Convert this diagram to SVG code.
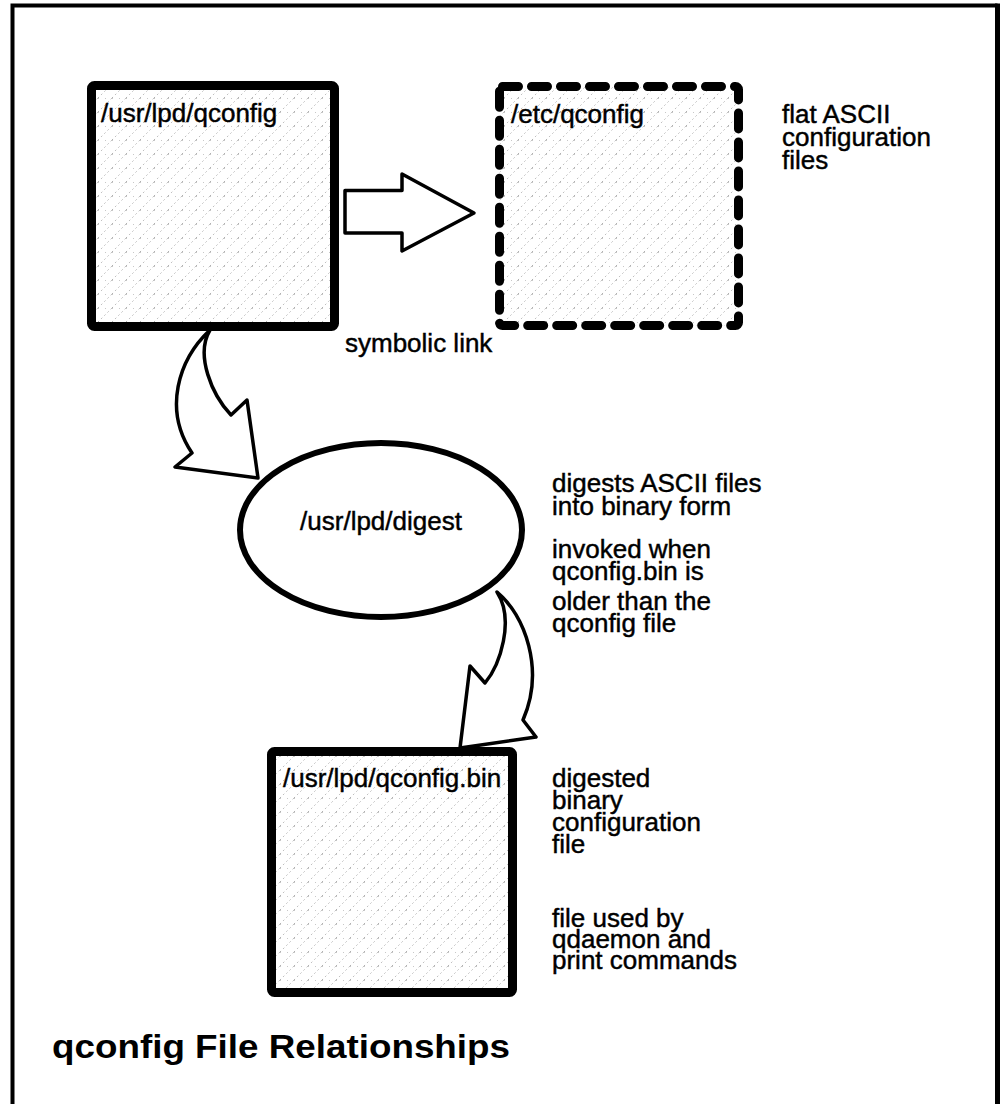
<svg xmlns="http://www.w3.org/2000/svg" width="1001" height="1104" viewBox="0 0 1001 1104">
<defs>
<pattern id="hatch" patternUnits="userSpaceOnUse" width="14" height="14">
<rect width="14" height="14" fill="#ffffff"/>
<path d="M0,14 L14,0" stroke="#9a9a9a" stroke-width="0.8" stroke-dasharray="1.5 3"/>
<path d="M0,0.5 H14" stroke="#b0b0b0" stroke-width="0.7" stroke-dasharray="1 6"/>
</pattern>
<style>
.t{font-family:"Liberation Sans",Arial,sans-serif;font-size:26px;fill:#000;stroke:#000;stroke-width:0.45}
.box{fill:url(#hatch);stroke:#000;stroke-width:9;stroke-linejoin:round}
.dash{fill:url(#hatch);stroke:#000;stroke-width:9;stroke-linecap:round;stroke-dasharray:16 13}
.conn{fill:#fff;stroke:#000;stroke-width:3.5;stroke-linejoin:round}
.title{font-family:"Liberation Sans",Arial,sans-serif;font-size:34px;font-weight:bold;fill:#000}
</style>
</defs>
<rect width="1001" height="1104" fill="#fff"/>
<g id="frame" fill="none" stroke="#000">
<path d="M12.5,1104 V5.5 H997.5" stroke-width="4"/>
<path d="M997.5,3.5 V1104" stroke-width="5"/>
</g>
<g id="connectors">
<path class="conn" stroke-width="5" d="M345,190.5 L402,190.5 L402,174 L474,213 L402,251 L402,233 L345,233 Z"/>
<path class="conn" d="M210,330 C178,360 163,410 192,453 L175,467 L258,478 L247,400 L231,415 C212,395 195,355 210,330 Z"/>
<path class="conn" d="M497,592 C525,615 545,670 523,720 L536,737 L460,748 L470,666 L485,683 C500,665 515,620 497,592 Z"/>
</g>
<g id="node-usr-qconfig">
<rect class="box" x="91.5" y="85.5" width="243" height="241" rx="3"/>
<text class="t" x="101" y="122">/usr/lpd/qconfig</text>
</g>
<g id="node-etc-qconfig">
<rect class="dash" x="499.5" y="86.5" width="239" height="239" rx="3"/>
<text class="t" x="511" y="123">/etc/qconfig</text>
</g>
<g id="label-flat">
<text class="t" x="782" y="123">flat ASCII</text>
<text class="t" x="782" y="146">configuration</text>
<text class="t" x="782" y="169">files</text>
</g>
<g id="label-symlink">
<text class="t" x="345" y="352">symbolic link</text>
</g>
<g id="node-digest">
<ellipse cx="381" cy="530" rx="141" ry="87" fill="#fff" stroke="#000" stroke-width="6"/>
<text class="t" x="381" y="530" text-anchor="middle">/usr/lpd/digest</text>
</g>
<g id="label-digest">
<text class="t" x="552" y="492">digests ASCII files</text>
<text class="t" x="552" y="515">into binary form</text>
<text class="t" x="552" y="558">invoked when</text>
<text class="t" x="552" y="580">qconfig.bin is</text>
<text class="t" x="552" y="610">older than the</text>
<text class="t" x="552" y="632">qconfig file</text>
</g>
<g id="node-qconfig-bin">
<rect class="box" x="271.5" y="751.5" width="241" height="241" rx="3"/>
<text class="t" x="283" y="787">/usr/lpd/qconfig.bin</text>
</g>
<g id="label-bin">
<text class="t" x="552" y="787">digested</text>
<text class="t" x="552" y="809">binary</text>
<text class="t" x="552" y="831">configuration</text>
<text class="t" x="552" y="853">file</text>
<text class="t" x="552" y="927">file used by</text>
<text class="t" x="552" y="948">qdaemon and</text>
<text class="t" x="552" y="969">print commands</text>
</g>
<text class="title" x="52" y="1058" textLength="458" lengthAdjust="spacingAndGlyphs">qconfig File Relationships</text>
</svg>
